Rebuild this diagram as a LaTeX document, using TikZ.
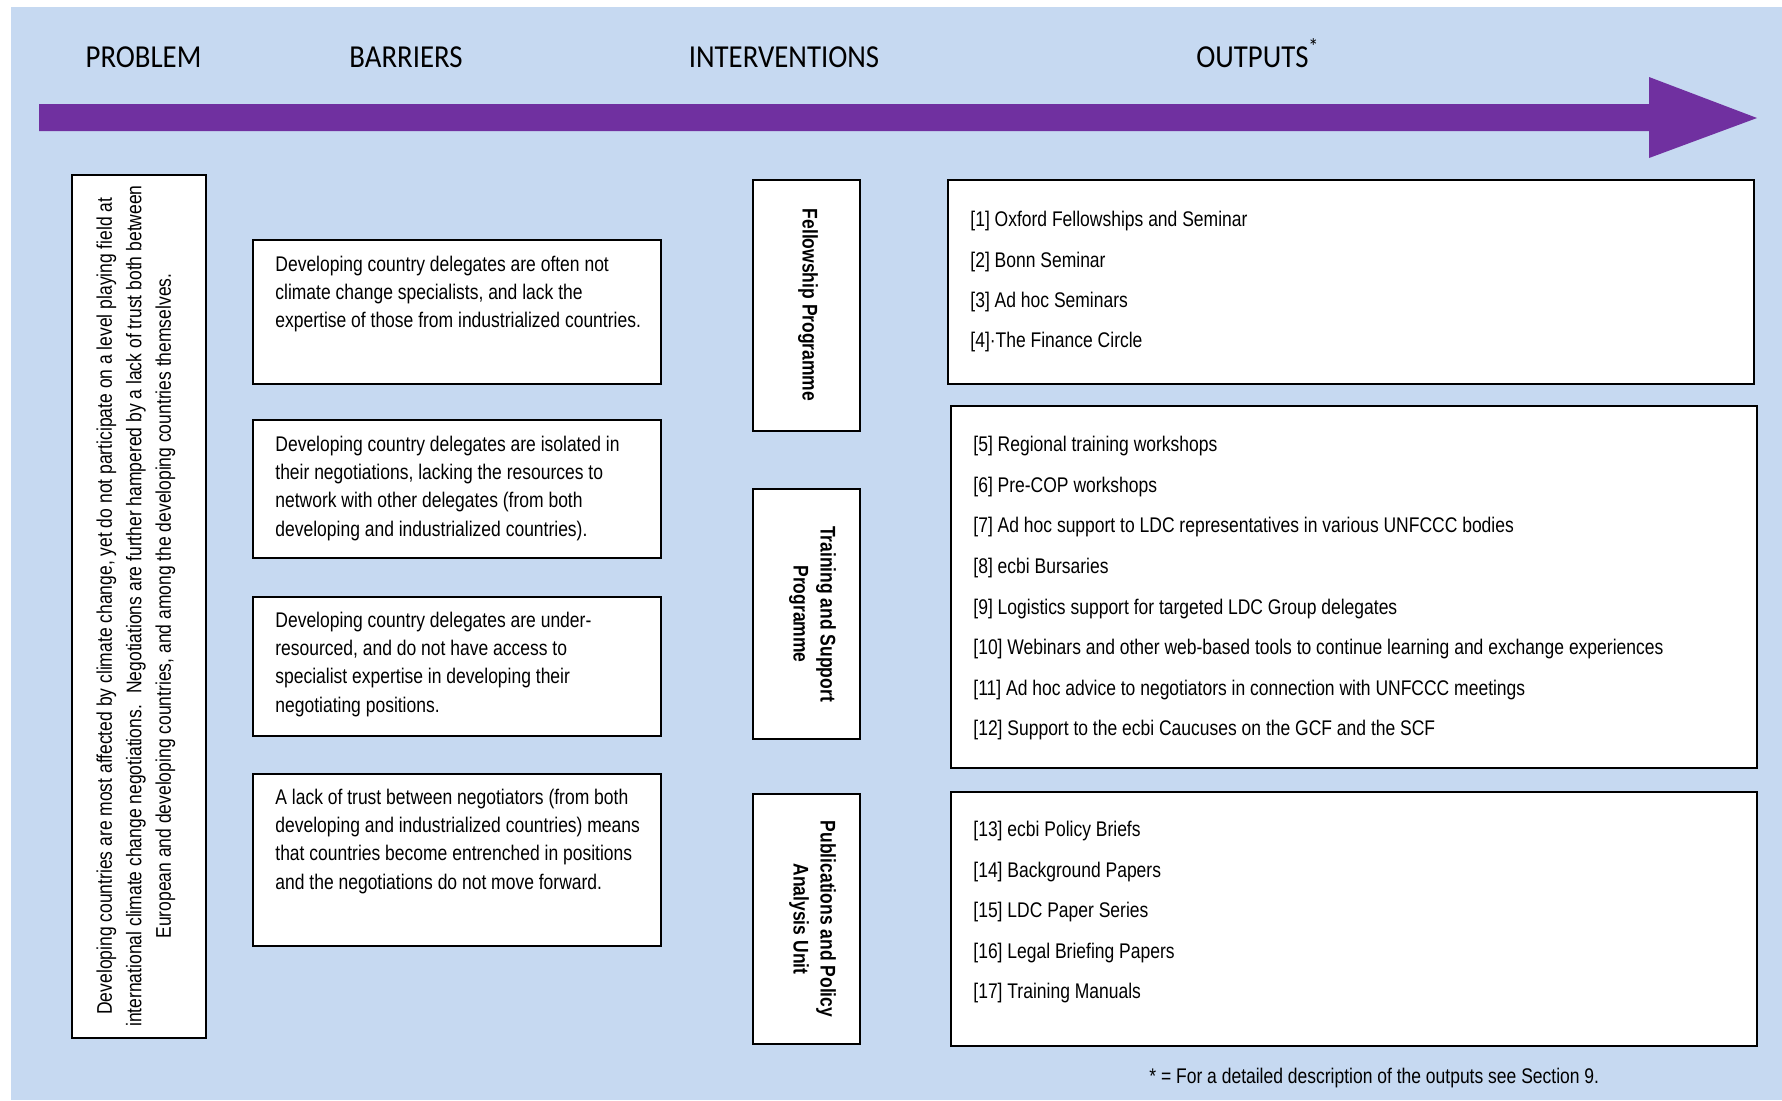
\documentclass[tikz,border=0pt]{standalone}
\usepackage{fontspec}
\setmainfont{Liberation Sans}
\newfontfamily\bodyfont[FakeStretch=0.825]{Liberation Sans}
\newfontfamily\headfont[FakeStretch=0.9]{Carlito}
\definecolor{bgblue}{HTML}{C6D9F1}
\definecolor{arrowpurple}{HTML}{7030A0}
\begin{document}
\begin{tikzpicture}[x=0.5pt,y=-0.5pt,
  head/.style={anchor=base, inner sep=0, font=\headfont\fontsize{16}{19}\selectfont},
  box/.style={draw=black, line width=1pt, fill=white, inner sep=0, outer sep=0},
  ptext/.style={inner sep=0, align=center, font=\bodyfont\fontsize{10.6}{14.75}\selectfont},
  btext/.style={inner sep=0, anchor=north west, align=left, font=\bodyfont\fontsize{10.6}{14.15}\selectfont},
  itext/.style={inner sep=0, align=center, rotate=-90, font=\bodyfont\bfseries\fontsize{10.6}{13.5}\selectfont},
  otext/.style={inner sep=0, anchor=north west, align=left, font=\bodyfont\fontsize{10.6}{#1}\selectfont},
  ftext/.style={inner sep=0, anchor=west, font=\bodyfont\fontsize{10.6}{12}\selectfont}
]
\useasboundingbox (0,0) rectangle (1782,1100);
\fill[white] (0,0) rectangle (1782,1100);
\fill[bgblue] (11,7) rectangle (1782,1100);
% timeline arrow
\fill[arrowpurple] (39,104) -- (1649,104) -- (1649,77) -- (1757,118) -- (1649,158) -- (1649,131) -- (39,131) -- cycle;

% headers
\node[head] (hprob) at (143.5,67) {PROBLEM};
\node[head] (hbar) at (406,67) {BARRIERS};
\node[head] (hint) at (784,67) {INTERVENTIONS};
\node[head, anchor=base west] (hout) at (1196,67) {OUTPUTS\textsuperscript{*}};

% problem
\node[box, minimum width=67pt, minimum height=431.5pt] (prob) at (139,606.5) {};
\node[ptext, rotate=90] (probt) at (136,606) {Developing countries are most affected by climate change, yet do not participate on a level playing field at\\
international climate change negotiations.~ Negotiations are further hampered by a lack of trust both between\\
European and developing countries, and among the developing countries themselves.};

% barriers
\node[box, minimum width=204pt, minimum height=72pt] (bar1) at (457,312) {};
\node[btext] (bar1t) at (275,255.5) {Developing country delegates are often not\\
climate change specialists, and lack the\\
expertise of those from industrialized countries.};

\node[box, minimum width=204pt, minimum height=69pt] (bar2) at (457,489) {};
\node[btext] (bar2t) at (275,435.5) {Developing country delegates are isolated in\\
their negotiations, lacking the resources to\\
network with other delegates (from both\\
developing and industrialized countries).};

\node[box, minimum width=204pt, minimum height=69.5pt] (bar3) at (457,666.5) {};
\node[btext] (bar3t) at (275,611.5) {Developing country delegates are under-\\
resourced, and do not have access to\\
specialist expertise in developing their\\
negotiating positions.};

\node[box, minimum width=204pt, minimum height=86pt] (bar4) at (457,860) {};
\node[btext] (bar4t) at (275,788.5) {A lack of trust between negotiators (from both\\
developing and industrialized countries) means\\
that countries become entrenched in positions\\
and the negotiations do not move forward.};

% interventions
\node[box, minimum width=53.5pt, minimum height=125.5pt] (int1) at (806.5,305.5) {};
\node[itext] (int1t) at (808,305) {Fellowship Programme};
\node[box, minimum width=53.5pt, minimum height=125pt] (int2) at (806.5,614) {};
\node[itext] (int2t) at (812.5,614) {Training and Support\\Programme};
\node[box, minimum width=53.5pt, minimum height=125pt] (int3) at (806.5,919) {};
\node[itext] (int3t) at (812.5,919) {Publications and Policy\\Analysis Unit};

% outputs
\node[box, minimum width=403pt, minimum height=102pt] (out1) at (1351,282) {};
\node[otext=20.2] (out1t) at (970,211) {{[}1] Oxford Fellowships and Seminar\\
{[}2] Bonn Seminar\\
{[}3] Ad hoc Seminars\\
{[}4]·The Finance Circle};

\node[box, minimum width=403pt, minimum height=181pt] (out2) at (1354,587) {};
\node[otext=20.3] (out2t) at (973,436) {{[}5] Regional training workshops\\
{[}6] Pre-COP workshops\\
{[}7] Ad hoc support to LDC representatives in various UNFCCC bodies\\
{[}8] ecbi Bursaries\\
{[}9] Logistics support for targeted LDC Group delegates\\
{[}10] Webinars and other web-based tools to continue learning and exchange experiences\\
{[}11] Ad hoc advice to negotiators in connection with UNFCCC meetings\\
{[}12] Support to the ecbi Caucuses on the GCF and the SCF};

\node[box, minimum width=403pt, minimum height=127pt] (out3) at (1354,919) {};
\node[otext=20.25] (out3t) at (973,821) {{[}13] ecbi Policy Briefs\\
{[}14] Background Papers\\
{[}15] LDC Paper Series\\
{[}16] Legal Briefing Papers\\
{[}17] Training Manuals};

\node[ftext] (foot) at (1149,1078) {* = For a detailed description of the outputs see Section 9.};
\end{tikzpicture}
\end{document}
